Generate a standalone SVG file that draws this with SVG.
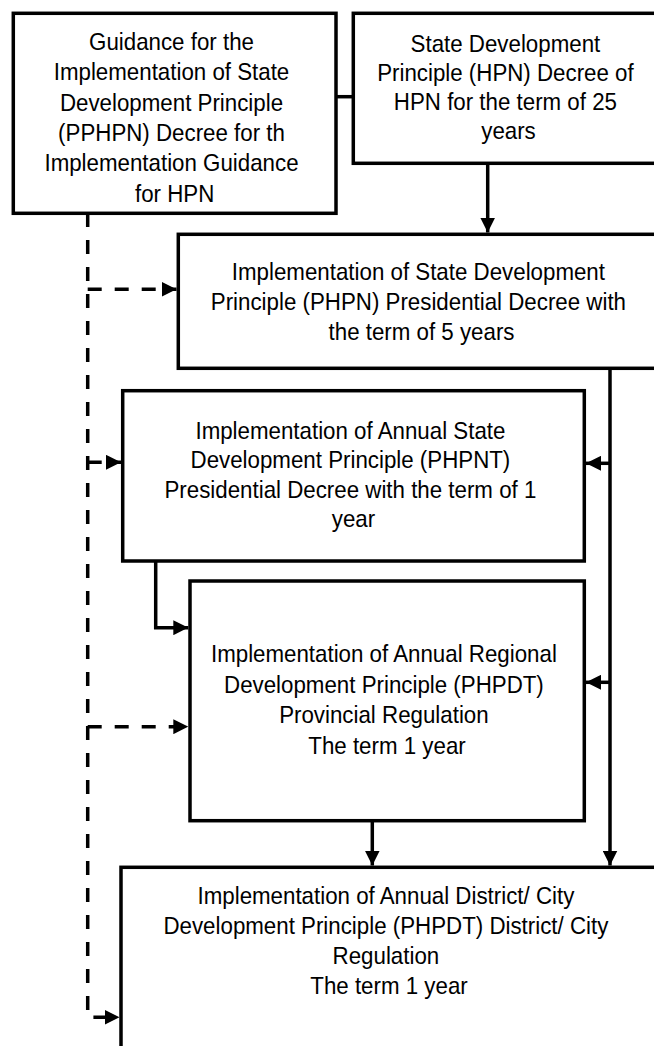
<svg xmlns="http://www.w3.org/2000/svg" width="654" height="1046" viewBox="0 0 654 1046">
  <style>
    .box { fill: #ffffff; stroke: #000000; stroke-width: 3.5; }
    .lbl { font-family: "Liberation Sans", Arial, sans-serif; font-size: 24px; fill: #000000; text-anchor: middle; }
    .solid { fill: none; stroke: #000000; stroke-width: 3.5; }
    .dash { fill: none; stroke: #000000; stroke-width: 3.5; stroke-dasharray: 14 13; }
  </style>
  <defs>
    <marker id="arr" markerUnits="userSpaceOnUse" markerWidth="15" markerHeight="15" refX="15" refY="7.5" orient="auto">
      <path d="M0,0 L15,7.5 L0,15 z" fill="#000000"/>
    </marker>
  </defs>
  <rect x="0" y="0" width="654" height="1046" fill="#ffffff"/>

  <g id="connectors">
    <path class="solid" d="M336,96.7 H353"/>
    <path class="solid" d="M487.7,163.3 V232.5" marker-end="url(#arr)"/>
    <path class="solid" d="M610,368.3 V865.5" marker-end="url(#arr)"/>
    <path class="solid" d="M610,463.3 H586" marker-end="url(#arr)"/>
    <path class="solid" d="M610,682.3 H586" marker-end="url(#arr)"/>
    <path class="solid" d="M155.7,561 V627.7 H188.3" marker-end="url(#arr)"/>
    <path class="solid" d="M372.3,820.7 V865.5" marker-end="url(#arr)"/>
    <path class="dash" d="M87.7,213 V1017.3 H119.5" marker-end="url(#arr)"/>
    <path class="dash" d="M87.7,289.3 H176.5" marker-end="url(#arr)"/>
    <path class="dash" d="M87.7,462.3 H121" marker-end="url(#arr)"/>
    <path class="dash" d="M87.7,726.7 H188.3" marker-end="url(#arr)"/>
  </g>

  <g id="node-pphpn">
    <rect class="box" x="13.3" y="13.3" width="322.7" height="200"/>
    <text class="lbl" transform="translate(174.6,0) scale(0.93,1)">
      <tspan x="0" y="50">Guidance for the</tspan>
      <tspan x="0" y="80.5">Implementation of State</tspan>
      <tspan x="0" y="111">Development Principle</tspan>
      <tspan x="0" y="141">(PPHPN) Decree for th</tspan>
      <tspan x="0" y="171.5">Implementation Guidance</tspan>
      <tspan x="0" y="202">for HPN</tspan>
    </text>
  </g>

  <g id="node-hpn">
    <rect class="box" x="353.3" y="13.3" width="310.5" height="150"/>
    <text class="lbl" transform="translate(508.5,0) scale(0.93,1)">
      <tspan x="0" y="52">State Development</tspan>
      <tspan x="0" y="81">Principle (HPN) Decree of</tspan>
      <tspan x="0" y="110">HPN for the term of 25</tspan>
      <tspan x="0" y="139">years</tspan>
    </text>
  </g>

  <g id="node-phpn">
    <rect class="box" x="178.3" y="234.3" width="486.5" height="134"/>
    <text class="lbl" transform="translate(421.5,0) scale(0.93,1)">
      <tspan x="0" y="280">Implementation of State Development</tspan>
      <tspan x="0" y="310">Principle (PHPN) Presidential Decree with</tspan>
      <tspan x="0" y="340">the term of 5 years</tspan>
    </text>
  </g>

  <g id="node-phpnt">
    <rect class="box" x="122.7" y="390.7" width="461.6" height="170.3"/>
    <text class="lbl" transform="translate(353.5,0) scale(0.93,1)">
      <tspan x="0" y="439.3">Implementation of Annual State</tspan>
      <tspan x="0" y="468.5">Development Principle (PHPNT)</tspan>
      <tspan x="0" y="498">Presidential Decree with the term of 1</tspan>
      <tspan x="0" y="527.5">year</tspan>
    </text>
  </g>

  <g id="node-phpdt-province">
    <rect class="box" x="190" y="581" width="394.3" height="239.7"/>
    <text class="lbl" transform="translate(387,0) scale(0.93,1)">
      <tspan x="0" y="662.3">Implementation of Annual Regional</tspan>
      <tspan x="0" y="693">Development Principle (PHPDT)</tspan>
      <tspan x="0" y="723.5">Provincial Regulation</tspan>
      <tspan x="0" y="754.5">The term 1 year</tspan>
    </text>
  </g>

  <g id="node-phpdt-district">
    <rect class="box" x="121" y="867.3" width="536" height="200"/>
    <text class="lbl" transform="translate(389,0) scale(0.93,1)">
      <tspan x="0" y="904">Implementation of Annual District/ City</tspan>
      <tspan x="0" y="934">Development Principle (PHPDT) District/ City</tspan>
      <tspan x="0" y="964">Regulation</tspan>
      <tspan x="0" y="994">The term 1 year</tspan>
    </text>
  </g>
</svg>
